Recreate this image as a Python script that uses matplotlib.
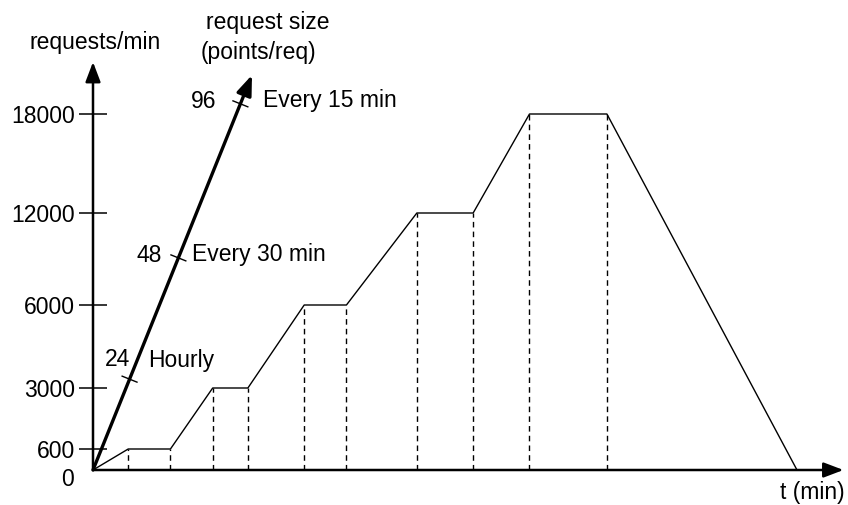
import numpy as np
import matplotlib
matplotlib.use("Agg")
import matplotlib.pyplot as plt

plt.rcParams['font.family'] = ['Liberation Sans', 'DejaVu Sans']

# load profile: time (min, schematic) vs requests/min
times = [0, 5, 11, 17, 22, 30, 36, 46, 54, 62, 73, 100]
rates = [0, 600, 600, 3000, 3000, 6000, 6000, 12000, 12000, 18000, 18000, 0]

# y tick levels (schematic, non-linear spacing)
rate_ticks = [600, 3000, 6000, 12000, 18000]
rate_tick_labels = ['600', '3000', '6000', '12000', '18000']

# request size axis
sizes = [24, 48, 96]
size_labels = ['Hourly', 'Every 30 min', 'Every 15 min']

W, H = 848, 505
fig = plt.figure(figsize=(W / 100, H / 100), dpi=100)
ox, oy = 93, 470  # origin in pixels
ax = fig.add_axes([ox / W, (H - oy) / H, (W - ox) / W, oy / H])

# non-linear y scale: level -> height above origin in pixels
lv = [0, 600, 3000, 6000, 12000, 18000, 30000]
ps = [0, 21, 82, 165, 257, 356, 564]
fwd = lambda v: np.interp(v, lv, ps)
inv = lambda p: np.interp(p, ps, lv)
ax.set_yscale('function', functions=(fwd, inv))

px_per_min = 7.04
ax.set_xlim(0, (W - ox) / px_per_min)
ax.set_ylim(0, inv(oy))

for s in ax.spines.values():
    s.set_visible(False)
ax.set_xticks([])
ax.set_yticks(rate_ticks)
ax.set_yticklabels(rate_tick_labels, fontsize=16.5)
ax.tick_params(axis='y', direction='inout', length=20, width=1.1, pad=3)
ax.patch.set_alpha(0)

# profile
ax.plot(times, rates, color='black', lw=1.0, zorder=3)
for t, r in zip(times[1:-1], rates[1:-1]):
    ax.plot([t, t], [0, r], color='black', lw=1.0, dashes=(4, 3), zorder=2)

# axes arrows
arr = dict(arrowstyle='-|>,head_length=1.0,head_width=0.38', mutation_scale=12,
           color='black', lw=1.8, shrinkA=0, shrinkB=0)
ax.annotate('', xy=(106.6, 0), xytext=(0, 0), arrowprops=arr,
            annotation_clip=False)
ax.annotate('', xy=(0, inv(oy - 62)), xytext=(0, 0), arrowprops=arr,
            annotation_clip=False)

# diagonal request size axis (axes fraction coords)
aw, ah = W - ox, oy
tip = np.array([(252 - ox) / aw, (oy - 75) / ah])
arr2 = dict(arr, lw=2.4)
ax.annotate('', xy=tip, xytext=(0, 0), xycoords='axes fraction',
            textcoords='axes fraction', arrowprops=arr2)
size_pos = [0.23, 0.537, 0.927]
d = np.array([tip[0] * aw, tip[1] * ah])
d = d / np.linalg.norm(d)
perp = np.array([d[1], -d[0]]) * 8
for f in size_pos:
    c = tip * f
    ax.plot([c[0] - perp[0] / aw, c[0] + perp[0] / aw],
            [c[1] - perp[1] / ah, c[1] + perp[1] / ah],
            color='black', lw=1.0, transform=ax.transAxes, clip_on=False)

def ptext(x, y, s, ha='center'):
    fig.text(x / W, 1 - y / H, s, ha=ha, va='center', fontsize=16.5)

num_x = [117, 149, 204]
lab_x = [148, 192, 263]
lab_y = [360, 255, 101]
for s, lab, nx, lx, ly in zip(sizes, size_labels, num_x, lab_x, lab_y):
    ptext(nx, ly, str(s))
    ptext(lx, ly, lab, ha='left')

ptext(68, 480, '0')
ptext(95, 43, 'requests/min')
ptext(268, 22, 'request size')
ptext(258, 52, '(points/req)')
ptext(845, 493, 't (min)', ha='right')

fig.savefig('out.png', dpi=100)
